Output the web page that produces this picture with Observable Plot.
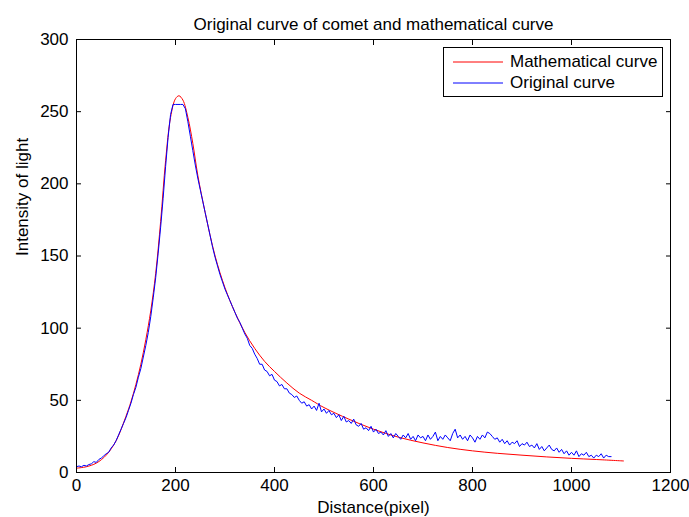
<!DOCTYPE html>
<html><head><meta charset="utf-8">
<script src="https://cdn.jsdelivr.net/npm/d3@7"></script>
<script src="https://cdn.jsdelivr.net/npm/@observablehq/plot@0.6"></script>
<style>
body{margin:0;background:#fff;}
#wrap{position:relative;width:689px;height:517px;}
.lg{position:absolute;left:443px;top:47px;width:220px;height:50px;border:1px solid #000;background:#fff;box-sizing:border-box;font:17px "Liberation Sans Narrow","Arial Narrow","Liberation Sans",sans-serif;color:#000;}
.row{position:absolute;left:8px;height:20px;line-height:20px;white-space:nowrap;}
.row svg{position:absolute;left:0;top:0;}
.row span{position:absolute;left:58px;top:0;}
</style></head><body><div id="wrap"></div>
<script>
const title = "Original curve of comet and mathematical curve";
const xLabel = "Distance(pixel)";
const yLabel = "Intensity of light";
const seriesNames = ["Mathematical curve", "Original curve"];
const seriesColors = ["#ff0000", "#0000ff"];
const xTicks = [0, 200, 400, 600, 800, 1000, 1200];
const yTicks = [0, 50, 100, 150, 200, 250, 300];

// Mathematical (fitted) curve
const mathX = [0,20,40,60,80,100,110,120,130,140,150,160,170,180,190,200,207,215,225,235,245,260,280,300,320,340,360,380,400,425,450,475,500,550,600,650,700,750,800,850,900,950,1000,1050,1105];
const mathY = [3,4,6.5,12,22,39,49,61,75,92,112,138,174,216,246,259,261,258,246,228,206,180,150,128,111,97,86,77,70,62,55,50,45,37,30,24.5,20.5,17.3,15,13.3,12,10.8,9.8,9,8];

// Original curve, sampled every 5 pixels from 0 to 1080
const origStep = 5;
const origY = [
4,4.5,4,5,4.5,5.5,6,7.5,7,9,10,11.5,13,14,17,19,22,26,30,34,
38,43,48,54,59,66,72,80,88,97,108,121,135,152,170,190,212,232,248,255,
255,255,255,255,252,243,233,223,213,204,196,188,180,172,164,156,149,143,137,132,
127,123,119,115,111,107,104,100,96,93,88,86,82,79,75,75,71,70,67,68,
64,63,60,61,58,58,55,54,52,53,50,48,49,46,47,44,46,43,48,42,
44,41,43,40,41,38,40,36,39,35,36,34,37,33,32,34,30,31,29,32,
28,30,27,28,26,29,25,27,24,27,25,23,26,24,27,23,25,22,26,24,
25,22,26,23,25,28,22,25,23,26,24,22,27,30,24,26,23,25,22,26,
24,21,25,23,26,24,28,27,25,23,24,21,23,20,22,19,21,20,22,18,
20,19,21,18,19,17,20,16,18,15,17,19,16,15,17,14,16,13,15,12,
14,12,15,11,13,12,14,11,12,10,12,11,13,10,12,11,11
];

const math = mathX.map((x, i) => ({x, y: mathY[i]}));
const orig = origY.map((y, i) => ({x: i * origStep, y}));

const font = '"Liberation Sans Narrow","Arial Narrow","Liberation Sans",sans-serif';

const chart = Plot.plot({
  width: 689, height: 517,
  marginLeft: 76, marginRight: 19, marginTop: 39, marginBottom: 45,
  style: {fontFamily: font, fontSize: "17px", color: "#000", background: "#fff", overflow: "visible"},
  x: {domain: [0, 1200]},
  y: {domain: [0, 300]},
  marks: [
    Plot.line(math, {x: "x", y: "y", stroke: seriesColors[0], strokeWidth: 1, curve: "catmull-rom"}),
    Plot.line(orig, {x: "x", y: "y", stroke: seriesColors[1], strokeWidth: 1}),
    Plot.frame({stroke: "#000", strokeWidth: 1}),
    Plot.axisX({ticks: xTicks, tickSize: -5, tickPadding: 11, tickFormat: d => String(d), label: null, fontSize: 17, fill: "#000", stroke: "#000"}),
    Plot.axisX({anchor: "top", ticks: xTicks, tickSize: -5, tickFormat: () => "", label: null, stroke: "#000"}),
    Plot.axisY({ticks: yTicks, tickSize: -5, tickPadding: 13, tickFormat: d => String(d), label: null, fontSize: 17, fill: "#000", stroke: "#000"}),
    Plot.axisY({anchor: "right", ticks: yTicks, tickSize: -5, tickFormat: () => "", label: null, stroke: "#000"}),
    Plot.text([title], {frameAnchor: "top", dy: -22, fontSize: 17, fill: "#000"}),
    Plot.text([xLabel], {frameAnchor: "bottom", dy: 35, lineAnchor: "middle", fontSize: 17, fill: "#000"}),
    Plot.text([yLabel], {frameAnchor: "left", dx: -54, rotate: -90, fontSize: 17, fill: "#000"})
  ]
});
const wrap = document.getElementById("wrap");
wrap.appendChild(chart);

// legend
const lg = document.createElement("div");
lg.className = "lg";
seriesNames.forEach((name, i) => {
  const row = document.createElement("div");
  row.className = "row";
  row.style.top = (4 + i * 21) + "px";
  row.innerHTML = `<svg width="52" height="20"><line x1="1" x2="51" y1="10" y2="10" stroke="${seriesColors[i]}" stroke-width="1"/></svg><span>${name}</span>`;
  lg.appendChild(row);
});
wrap.appendChild(lg);
</script></body></html>
